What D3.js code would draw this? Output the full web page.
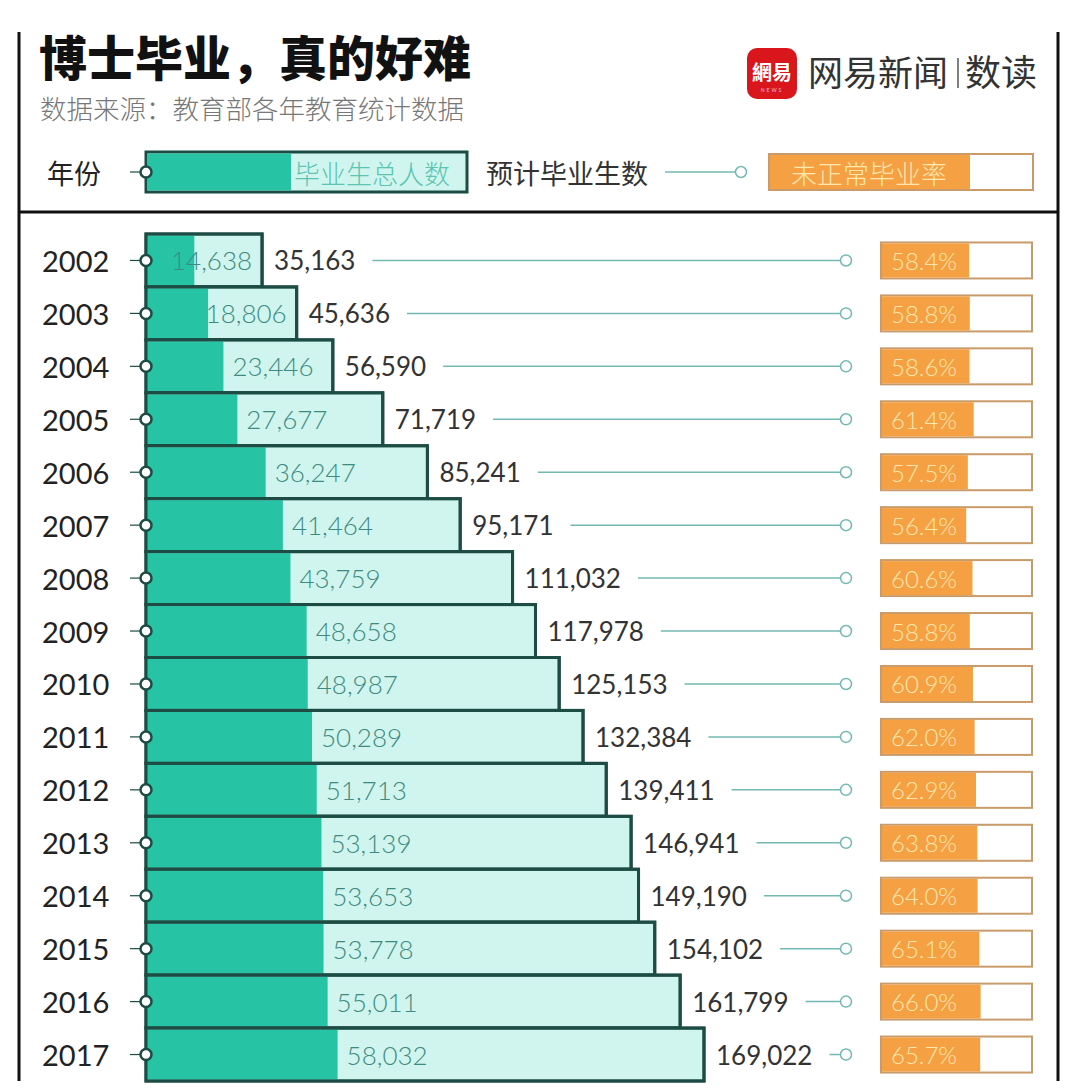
<!DOCTYPE html>
<html>
<head>
<meta charset="utf-8">
<script src="https://cdn.jsdelivr.net/npm/d3@7/dist/d3.min.js"></script>
<style>
  html, body { margin: 0; padding: 0; background: #fff; }
  svg { display: block; }
  .num { font-family: Lato, "Open Sans", "DejaVu Sans", sans-serif; }
  .cjk { font-family: "Noto Sans CJK SC", "Noto Sans", sans-serif; }
</style>
</head>
<body>
<svg id="chart" width="1080" height="1090"></svg>
<script>
// ---- data ----
const years = [2002, 2003, 2004, 2005, 2006, 2007, 2008, 2009, 2010, 2011, 2012, 2013, 2014, 2015, 2016, 2017];
const graduates = [14638, 18806, 23446, 27677, 36247, 41464, 43759, 48658, 48987, 50289, 51713, 53139, 53653, 53778, 55011, 58032];
const expected = [35163, 45636, 56590, 71719, 85241, 95171, 111032, 117978, 125153, 132384, 139411, 146941, 149190, 154102, 161799, 169022];
const unfinishedRate = [58.4, 58.8, 58.6, 61.4, 57.5, 56.4, 60.6, 58.8, 60.9, 62.0, 62.9, 63.8, 64.0, 65.1, 66.0, 65.7];
const titleText = "博士毕业，真的好难";
const subtitleText = "数据来源：教育部各年教育统计数据";
const legendLabels = ["年份", "毕业生总人数", "预计毕业生数", "未正常毕业率"];

// ---- colors ----
const C = {
  dark: "#27c3a5",
  light: "#d0f5ee",
  border: "#1c4c43",
  inner: "#3f8a80",
  outer: "#333",
  line: "#74b9b1",
  orange: "#f4a043",
  orangeStroke: "#c99b6a",
  cream: "#fde7ae"
};

const svg = d3.select("#chart");
const fmt = d3.format(",");

const rows = years.map((y, i) => ({ year: y, grad: graduates[i], exp: expected[i], rate: unfinishedRate[i] }));

const x0 = 146;
const x = d3.scaleLinear().domain([0, d3.max(expected)]).range([x0, 704]);
const y = d3.scaleBand().domain(years).range([234, 1081]).padding(0);
const rateW = d3.scaleLinear().domain([0, 100]).range([0, 151]);
const rateX = 881, rateH = 36;
const endCircleX = 846;

// ---- frame ----
svg.append("line").attr("x1", 19).attr("x2", 19).attr("y1", 32).attr("y2", 1081).attr("stroke", "#111").attr("stroke-width", 3);
svg.append("line").attr("x1", 1058).attr("x2", 1058).attr("y1", 32).attr("y2", 1081).attr("stroke", "#111").attr("stroke-width", 3);
svg.append("line").attr("x1", 19).attr("x2", 1058).attr("y1", 212).attr("y2", 212).attr("stroke", "#111").attr("stroke-width", 3);

// ---- title ----
svg.append("text").attr("class", "cjk").attr("x", 39).attr("y", 76)
  .attr("font-size", 48).attr("font-weight", 900).attr("fill", "#111").text(titleText);
svg.append("text").attr("class", "cjk").attr("x", 40).attr("y", 119)
  .attr("font-size", 26.5).attr("font-weight", 300).attr("fill", "#777").text(subtitleText);

// ---- logo ----
const logo = svg.append("g");
logo.append("rect").attr("x", 747).attr("y", 48).attr("width", 50).attr("height", 51).attr("rx", 10).attr("fill", "#d8161c");
logo.append("text").attr("class", "cjk").attr("x", 772).attr("y", 80).attr("text-anchor", "middle")
  .attr("font-size", 20).attr("font-weight", 700).attr("fill", "#fff").text("網易");
logo.append("text").attr("class", "num").attr("x", 772).attr("y", 92).attr("text-anchor", "middle")
  .attr("font-size", 5).attr("letter-spacing", 2).attr("fill", "#fbd").text("NEWS");
logo.append("text").attr("class", "cjk").attr("x", 808).attr("y", 86)
  .attr("font-size", 35).attr("fill", "#333").text("网易新闻");
logo.append("line").attr("x1", 958).attr("x2", 958).attr("y1", 58).attr("y2", 88).attr("stroke", "#555").attr("stroke-width", 1.5);
logo.append("text").attr("class", "cjk").attr("x", 965).attr("y", 86)
  .attr("font-size", 36).attr("fill", "#333").text("数读");

// ---- legend ----
const ly = 172;
const leg = svg.append("g");
leg.append("text").attr("class", "cjk").attr("x", 47).attr("y", ly).attr("dominant-baseline", "central")
  .attr("font-size", 27).attr("fill", "#222").text(legendLabels[0]);
leg.append("rect").attr("x", x0).attr("y", 152).attr("width", 467 - x0).attr("height", 40)
  .attr("fill", C.light).attr("stroke", C.border).attr("stroke-width", 3);
leg.append("rect").attr("x", x0 + 1.5).attr("y", 153.5).attr("width", 291 - x0 - 1.5).attr("height", 37).attr("fill", C.dark);
leg.append("text").attr("class", "cjk").attr("x", 294).attr("y", ly).attr("dominant-baseline", "central")
  .attr("font-size", 26).attr("font-weight", 300).attr("fill", "#5cc4b1").text(legendLabels[1]);
leg.append("line").attr("x1", 130).attr("x2", 141).attr("y1", ly).attr("y2", ly).attr("stroke", C.border).attr("stroke-width", 1.2);
leg.append("circle").attr("cx", x0).attr("cy", ly).attr("r", 5.5).attr("fill", "#fff").attr("stroke", C.border).attr("stroke-width", 2.5);
leg.append("text").attr("class", "cjk").attr("x", 486).attr("y", ly).attr("dominant-baseline", "central")
  .attr("font-size", 27).attr("fill", "#333").text(legendLabels[2]);
leg.append("line").attr("x1", 665).attr("x2", 735).attr("y1", ly).attr("y2", ly).attr("stroke", C.line).attr("stroke-width", 1.5);
leg.append("circle").attr("cx", 741).attr("cy", ly).attr("r", 5.5).attr("fill", "#fff").attr("stroke", C.line).attr("stroke-width", 1.5);
leg.append("rect").attr("x", 769).attr("y", 154).attr("width", 1033 - 769).attr("height", 36)
  .attr("fill", "#fff").attr("stroke", C.orangeStroke).attr("stroke-width", 2);
leg.append("rect").attr("x", 770).attr("y", 155).attr("width", 970 - 770).attr("height", 34).attr("fill", C.orange);
leg.append("text").attr("class", "cjk").attr("x", 791).attr("y", ly).attr("dominant-baseline", "central")
  .attr("font-size", 26).attr("font-weight", 300).attr("fill", C.cream).text(legendLabels[3]);

// ---- rows ----
const g = svg.append("g");
const row = g.selectAll("g.row").data(rows).join("g").attr("class", "row");

row.append("rect")
  .attr("x", x0).attr("y", d => y(d.year))
  .attr("width", d => x(d.exp) - x0).attr("height", y.bandwidth())
  .attr("fill", C.light).attr("stroke", C.border).attr("stroke-width", 3);
row.append("rect")
  .attr("x", x0 + 1.5).attr("y", d => y(d.year) + 1.5)
  .attr("width", d => x(d.grad) - x0 - 1.5).attr("height", y.bandwidth() - 3)
  .attr("fill", C.dark);
row.append("rect")
  .attr("x", x0).attr("y", d => y(d.year))
  .attr("width", d => x(d.exp) - x0).attr("height", y.bandwidth())
  .attr("fill", "none").attr("stroke", C.border).attr("stroke-width", 3);

const cy = d => y(d.year) + y.bandwidth() / 2;

row.append("text").attr("class", "num").attr("x", 42).attr("y", d => cy(d)).attr("dominant-baseline", "central")
  .attr("font-size", 29).attr("fill", "#222").text(d => d.year);
row.append("line").attr("x1", 130).attr("x2", 141).attr("y1", d => cy(d)).attr("y2", d => cy(d))
  .attr("stroke", C.border).attr("stroke-width", 1.2);
row.append("circle").attr("cx", x0).attr("cy", d => cy(d)).attr("r", 5.5)
  .attr("fill", "#fff").attr("stroke", C.border).attr("stroke-width", 2.5);

row.append("text").attr("class", "num").attr("y", d => cy(d)).attr("dominant-baseline", "central")
  .attr("font-size", 26).attr("font-weight", 300).attr("fill", C.inner).text(d => fmt(d.grad))
  .each(function(d) {
    const w = this.getComputedTextLength();
    const px = Math.min(x(d.grad) + 9, x(d.exp) - 10 - w);
    d3.select(this).attr("x", px);
  });

row.append("text").attr("class", "num").attr("x", d => x(d.exp) + 12).attr("y", d => cy(d)).attr("dominant-baseline", "central")
  .attr("font-size", 26).attr("fill", C.outer).text(d => fmt(d.exp))
  .each(function(d) { d.labelEnd = x(d.exp) + 12 + this.getComputedTextLength(); });
row.append("line").attr("x1", d => d.labelEnd + 17).attr("x2", endCircleX - 6)
  .attr("y1", d => cy(d)).attr("y2", d => cy(d)).attr("stroke", C.line).attr("stroke-width", 1.5);
row.append("circle").attr("cx", endCircleX).attr("cy", d => cy(d)).attr("r", 5.5)
  .attr("fill", "#fff").attr("stroke", C.line).attr("stroke-width", 1.5);

row.append("rect").attr("x", rateX).attr("y", d => cy(d) - rateH / 2).attr("width", rateW(100)).attr("height", rateH)
  .attr("fill", "#fff").attr("stroke", C.orangeStroke).attr("stroke-width", 2);
row.append("rect").attr("x", rateX + 1).attr("y", d => cy(d) - rateH / 2 + 1).attr("width", d => rateW(d.rate) - 1).attr("height", rateH - 2)
  .attr("fill", C.orange);
row.append("text").attr("class", "num").attr("x", rateX + 10).attr("y", d => cy(d)).attr("dominant-baseline", "central")
  .attr("font-size", 24).attr("font-weight", 300).attr("fill", C.cream).text(d => d.rate.toFixed(1) + "%");
</script>
</body>
</html>
